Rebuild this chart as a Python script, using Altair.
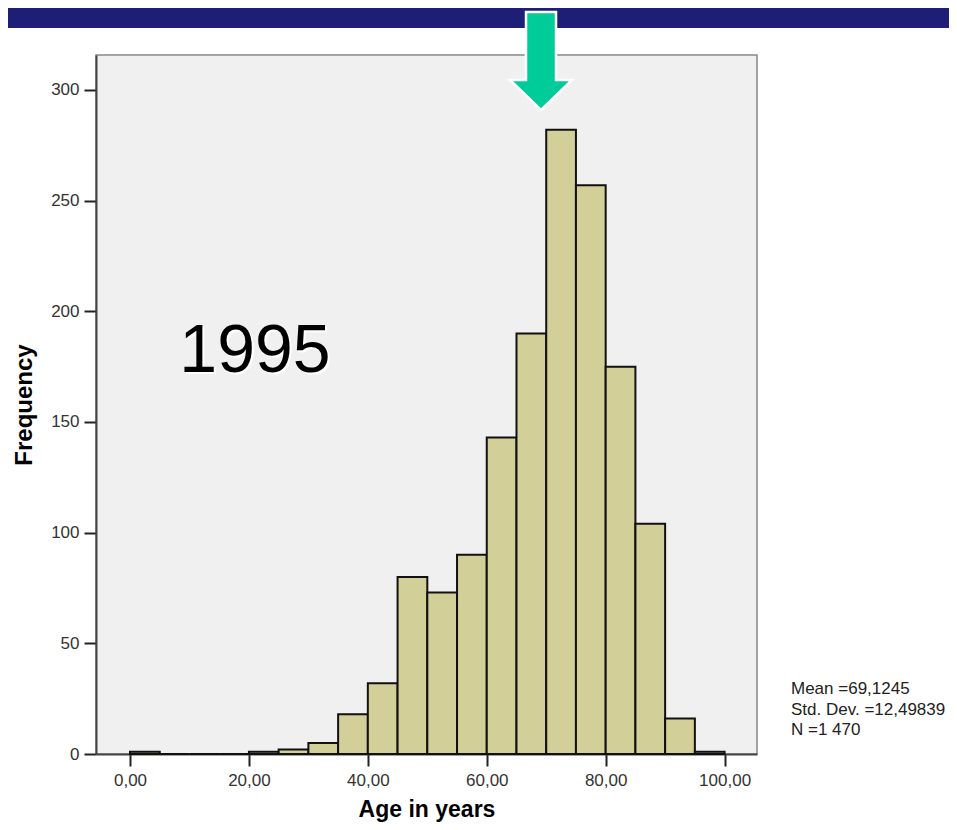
import altair as alt
import pandas as pd

# Histogram data (5-year bins)
bin_starts = [0, 5, 10, 15, 20, 25, 30, 35, 40, 45, 50, 55, 60, 65, 70, 75, 80, 85, 90, 95]
counts = [1, 0, 0, 0, 1, 2, 5, 18, 32, 80, 73, 90, 143, 190, 282, 257, 175, 104, 16, 1]
x_ticks = [0, 20, 40, 60, 80, 100]
y_ticks = [0, 50, 100, 150, 200, 250, 300]
stats_lines = ["Mean =69,1245", "Std. Dev. =12,49839", "N =1 470"]
mean_age = 69.1245
year_label = "1995"

df = pd.DataFrame({
    "start": bin_starts,
    "end": [b + 5 for b in bin_starts],
    "count": counts,
})

W, H = 661, 699
xscale = alt.Scale(domain=[-5.72, 105.45], nice=False, zero=False)
yscale = alt.Scale(domain=[0, 315.8], nice=False)

bars = alt.Chart(df).mark_rect(
    fill="#D3CF98", stroke="#111111", strokeWidth=2
).encode(
    x=alt.X("start:Q", scale=xscale,
            axis=alt.Axis(values=x_ticks, title="Age in years",
                          labelExpr="replace(format(datum.value, '.2f'), '.', ',')",
                          grid=False, tickSize=12, tickWidth=2, tickColor="#222222",
                          domainColor="#444444", domainWidth=2,
                          labelFontSize=17, labelColor="#333333", labelPadding=6,
                          labelFont="Liberation Sans",
                          titleFont="Liberation Sans", titleFontSize=23, titleFontWeight="bold",
                          titleColor="#000000", titlePadding=10)),
    x2="end:Q",
    y=alt.Y("count:Q", scale=yscale,
            axis=alt.Axis(values=y_ticks, title="Frequency", grid=False,
                          tickSize=12, tickWidth=2, tickColor="#222222",
                          domainColor="#444444", domainWidth=2,
                          labelFontSize=17, labelColor="#333333", labelPadding=5,
                          labelFont="Liberation Sans",
                          titleFont="Liberation Sans", titleFontSize=24, titleFontWeight="bold",
                          titleColor="#000000", titlePadding=14)),
    y2=alt.datum(0),
)

one = pd.DataFrame({"mean": [mean_age]})

band = alt.Chart(one).mark_rect(color="#1E1E76").encode(
    x=alt.value(-88), x2=alt.value(853), y=alt.value(-47), y2=alt.value(-27)
)

arrow_path = ("M -0.3 -0.98 L 0.3 -0.98 L 0.3 0.38 L 0.62 0.38 L 0 0.98 "
              "L -0.62 0.38 L -0.3 0.38 Z")
arrow = alt.Chart(one).mark_point(
    shape=arrow_path, size=10000, filled=True, fill="#00CC99", fillOpacity=1,
    stroke="white", strokeWidth=2.5, opacity=1
).encode(
    x=alt.X("mean:Q", scale=xscale),
    y=alt.value(6),
)

year_df = pd.DataFrame({"t": [year_label]})
year_shadow = alt.Chart(year_df).mark_text(
    fontSize=68, font="Liberation Sans", color="white", align="center", baseline="alphabetic"
).encode(text="t:N", x=alt.value(161), y=alt.value(319))
year_text = alt.Chart(year_df).mark_text(
    fontSize=68, font="Liberation Sans", color="#000000", align="center", baseline="alphabetic"
).encode(text="t:N", x=alt.value(159), y=alt.value(317))

stats_layers = []
for i, line in enumerate(stats_lines):
    sdf = pd.DataFrame({"line": [line]})
    stats_layers.append(
        alt.Chart(sdf).mark_text(
            fontSize=17, font="Liberation Sans", color="#222222",
            align="left", baseline="middle"
        ).encode(text="line:N", x=alt.value(695), y=alt.value(634 + 20.5 * i))
    )

chart = alt.layer(band, bars, year_shadow, year_text, arrow, *stats_layers).properties(
    width=W, height=H,
    autosize=alt.AutoSizeParams(type="none"),
    padding={"left": 88, "top": 47, "right": 192, "bottom": 68},
    background="white",
).configure_view(
    fill="#F0F0F0", stroke="#888888", strokeWidth=1.5
)

chart.save("out.html", embed_options={"renderer": "svg", "actions": False})
